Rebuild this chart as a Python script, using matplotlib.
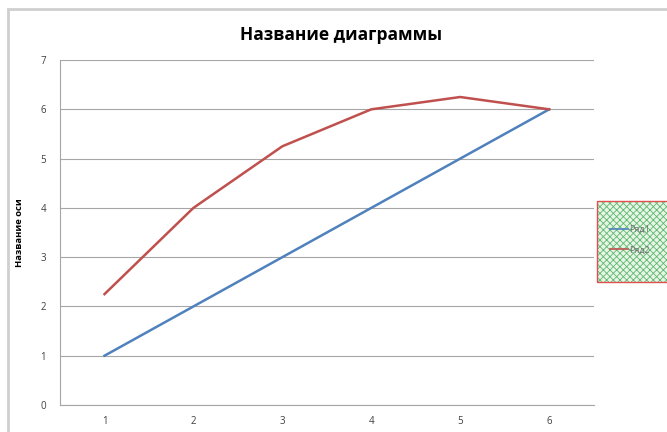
import numpy as np
import matplotlib.pyplot as plt
import matplotlib.patches as mpatches

# data
categories = [1, 2, 3, 4, 5, 6]
row1 = [1, 2, 3, 4, 5, 6]
row2 = [2.25, 4, 5.25, 6, 6.25, 6]
names = ['Ряд1', 'Ряд2']

plt.rcParams['font.family'] = ['Open Sans', 'DejaVu Sans']

fig = plt.figure(figsize=(6.67, 4.32), dpi=100)

# outer chart frame
fig.patches.append(mpatches.Rectangle((0.012, -0.01), 1.0, 0.99, transform=fig.transFigure,
                                      fill=False, edgecolor='#cfcfcf', linewidth=2))

ax = fig.add_axes([0.09, 0.0625, 0.8, 0.7985])
x = np.arange(len(categories))
ax.plot(x, row1, color='#4F81BD', linewidth=1.8, label=names[0])
ax.plot(x, row2, color='#C0504D', linewidth=1.8, label=names[1])

ax.set_xlim(-0.5, len(categories) - 0.5)
ax.set_ylim(0, 7)
ax.set_xticks(x)
ax.set_xticklabels([str(c) for c in categories])
ax.set_yticks(range(0, 8))
ax.yaxis.grid(True, color='#a6a6a6', linewidth=0.8)
ax.set_axisbelow(True)
for s in ['top', 'right']:
    ax.spines[s].set_visible(False)
for s in ['left', 'bottom']:
    ax.spines[s].set_color('#a6a6a6')
    ax.spines[s].set_linewidth(0.8)
ax.tick_params(axis='both', length=0, labelsize=7, colors='#404040', pad=8)
ax.tick_params(axis='y', pad=10)

ax.set_ylabel('Название оси', fontsize=6.8, fontweight='bold', labelpad=12)
fig.text(0.512, 0.918, 'Название диаграммы', ha='center', va='center',
         fontsize=12.5, fontweight='bold')

# legend box: green hatch, red border
plt.rcParams['hatch.linewidth'] = 0.6
hatchbox = mpatches.Rectangle((0.895, 0.347), 0.12, 0.1875, transform=fig.transFigure,
                              facecolor='#e6f5e6', edgecolor='#5fb86f', hatch='xxxxx', linewidth=0)
fig.patches.append(hatchbox)
fig.patches.append(mpatches.Rectangle((0.895, 0.347), 0.12, 0.1875, transform=fig.transFigure,
                                      fill=False, edgecolor='#e05050', linewidth=1))
leg = fig.legend(loc='center left', bbox_to_anchor=(0.902, 0.445), frameon=False,
                 fontsize=6.5, handlelength=2.0, labelspacing=1.3, handletextpad=0.1,
                 labelcolor='#707070')
for h in leg.get_lines():
    h.set_linewidth(1.2)

plt.savefig('out.png', dpi=100)
